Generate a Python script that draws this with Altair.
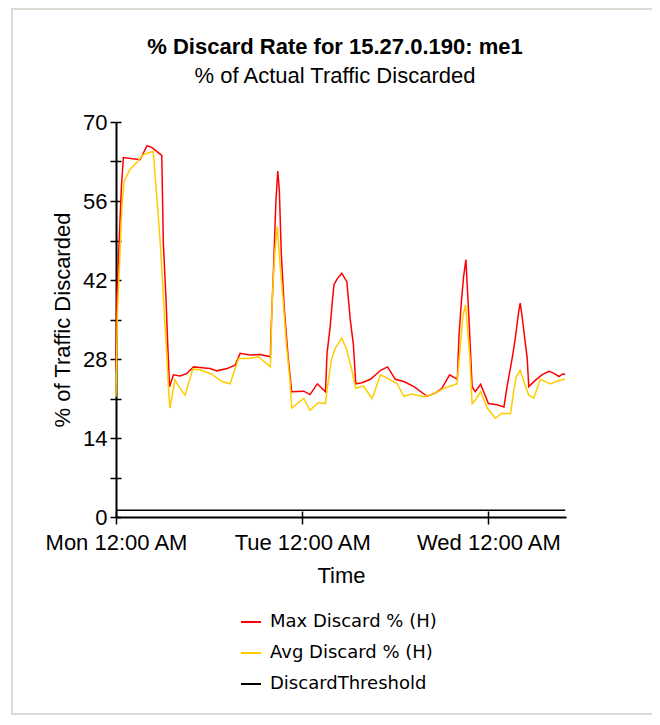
import altair as alt
import pandas as pd

# ---- data (hours after Mon 12:00 AM, % discarded) ----
max_hours = [0.0, 0.1, 0.4, 0.7, 0.95, 3.1, 4.0, 4.6, 5.25, 5.9, 6.1, 6.45, 6.67, 6.9,
             7.4, 8.25, 9.1, 10.0, 10.8, 12.1, 13.0, 14.3, 15.35, 16.0, 17.3, 18.6, 19.9,
             20.0, 20.3, 20.6, 20.85, 21.05, 21.3, 21.7, 22.2, 22.65, 24.2, 25.0, 25.95,
             27.0, 27.2, 27.6, 27.9, 28.1, 28.55, 29.1, 29.75, 30.2, 30.6, 30.9, 31.7,
             32.8, 34.1, 35.0, 36.0, 37.1, 38.4, 40.1, 41.2, 42.0, 43.0, 44.0, 44.2,
             44.5, 44.8, 45.1, 45.25, 45.55, 45.9, 46.3, 47.0, 48.0, 49.1, 50.0, 50.4,
             51.1, 51.5, 51.9, 52.1, 52.35, 52.65, 53.0, 53.2, 54.1, 54.9, 55.8, 56.4,
             57.1, 57.5, 57.9]
max_vals = [26.0, 38.5, 48.6, 58.6, 63.7, 63.3, 65.8, 65.5, 64.8, 64.1, 48.6, 38.5, 30.5, 23.1,
            25.2, 25.0, 25.4, 26.6, 26.5, 26.3, 25.9, 26.3, 26.9, 29.0, 28.7, 28.8, 28.4,
            33.5, 43.8, 55.7, 61.3, 58.0, 46.8, 36.7, 28.1, 22.2, 22.3, 21.7, 23.6,
            22.2, 29.0, 33.7, 38.5, 41.2, 42.3, 43.2, 41.7, 34.9, 30.5, 23.6, 23.8,
            24.4, 26.0, 26.6, 24.4, 24.0, 23.1, 21.4, 22.0, 22.8, 25.2, 24.4, 32.0,
            37.9, 42.6, 45.6, 41.5, 33.5, 23.1, 22.2, 23.5, 20.1, 19.9, 19.5, 23.1,
            28.4, 32.0, 36.4, 37.9, 35.5, 32.0, 28.1, 23.1, 24.3, 25.2, 25.8, 25.5,
            24.9, 25.3, 25.3]

avg_hours = [0.0, 0.17, 0.5, 0.75, 1.05, 1.8, 2.65, 3.5, 4.8, 5.05, 5.35, 5.7, 6.0, 6.45,
             6.75, 6.95, 7.6, 8.25, 8.9, 9.9, 10.8, 12.35, 13.65, 14.7, 15.8, 17.05, 18.35,
             19.9, 20.15, 20.5, 20.8, 21.05, 21.5, 21.95, 22.45, 22.65, 24.2, 25.0, 26.1,
             27.0, 27.2, 27.8, 28.25, 29.1, 29.75, 30.4, 30.9, 31.9, 33.0, 34.1, 35.35,
             36.2, 37.1, 38.15, 39.65, 40.95, 42.25, 43.95, 44.3, 44.7, 45.05, 45.25, 45.6,
             45.9, 46.3, 47.0, 47.85, 48.9, 49.75, 50.85, 51.25, 51.6, 52.1, 52.65, 53.2,
             53.85, 54.7, 55.35, 56.0, 56.65, 57.7, 57.9]
avg_vals = [21.3, 35.5, 46.2, 54.5, 59.5, 61.6, 62.8, 64.2, 64.8, 60.4, 55.1, 48.6, 41.5, 30.8,
            23.1, 19.3, 24.3, 22.8, 21.6, 26.2, 26.1, 25.3, 24.0, 23.6, 28.1, 28.1, 28.4,
            26.6, 39.1, 47.4, 51.5, 46.2, 39.1, 30.8, 23.7, 19.3, 21.0, 18.9, 20.3,
            20.1, 22.5, 28.1, 29.9, 31.7, 29.6, 26.0, 22.8, 23.2, 21.0, 25.2, 24.3,
            23.7, 21.4, 21.8, 21.3, 21.8, 22.8, 23.6, 29.0, 35.5, 37.6, 34.3, 28.4,
            20.1, 20.7, 22.2, 19.3, 17.5, 18.4, 18.3, 22.2, 24.9, 26.0, 23.7, 21.6,
            21.1, 24.4, 24.0, 23.6, 24.0, 24.4, 24.4]

thr_hours = [0.0, 57.9]
thr_vals = [1.2, 1.2]

series_names = ["Max Discard % (H)", "Avg Discard % (H)", "DiscardThreshold"]
series_colors = ["#ff0000", "#ffcc00", "#000000"]
y_ticks = [0, 7, 14, 21, 28, 35, 42, 49, 56, 63, 70]

start = pd.Timestamp("2024-01-01 00:00:00")  # a Monday


def frame(hours, vals, name):
    t = [(start + pd.Timedelta(hours=h)).strftime("%Y-%m-%dT%H:%M:%S") for h in hours]
    return pd.DataFrame({"time": t, "value": vals, "series": name, "order": range(len(vals))})


df = pd.concat([
    frame(thr_hours, thr_vals, series_names[2]),
    frame(max_hours, max_vals, series_names[0]),
    frame(avg_hours, avg_vals, series_names[1]),
])

FONT = "Liberation Sans"
x_domain = [alt.DateTime(year=2024, month=1, date=1, hours=0),
            alt.DateTime(year=2024, month=1, date=3, hours=10)]
x_ticks = [alt.DateTime(year=2024, month=1, date=d) for d in (1, 2, 3)]

x_enc = alt.X(
    "time:T",
    title="Time",
    scale=alt.Scale(domain=x_domain),
    axis=alt.Axis(
        values=x_ticks, orient="bottom",
        format="%a %I:%M %p", labelAngle=0, labelFlush=False, labelOverlap=False,
        tickSize=7, tickWidth=1.5, tickColor="black", domainColor="black", domainWidth=2,
        labelPadding=8, titlePadding=12, grid=False,
    ),
)
y_enc = alt.Y(
    "value:Q",
    title="% of Traffic Discarded",
    scale=alt.Scale(domain=[0, 70], nice=False, zero=True),
    axis=alt.Axis(
        values=y_ticks, orient="left", labelExpr="datum.value % 14 == 0 ? datum.label : ''",
        tickSize=6, tickWidth=1.5, tickColor="black", domainColor="black", domainWidth=2,
        labelPadding=3, titlePadding=8, grid=False,
    ),
)

lines = alt.Chart(df).mark_line(strokeWidth=1.5, interpolate="linear").encode(
    x=x_enc,
    y=y_enc,
    color=alt.Color(
        "series:N",
        scale=alt.Scale(domain=series_names, range=series_colors),
        sort=series_names,
        legend=alt.Legend(
            title=None, orient="none", legendX=124, legendY=489,
            symbolType="stroke", symbolSize=400, symbolStrokeWidth=2,
            labelFont="DejaVu Sans", labelFontSize=18, labelColor="black",
            labelOffset=8, rowPadding=11, padding=0, labelLimit=400,
        ),
    ),
    detail="series:N",
    order="order:Q",
)

# inner half of the tick marks (ticks in the reference cross the axis line)
inner = alt.Chart(df).mark_line(strokeOpacity=0).encode(
    x=alt.X("time:T", title=None, scale=alt.Scale(domain=x_domain),
            axis=alt.Axis(values=x_ticks, orient="bottom", offset=-6, labels=False,
                          domain=False, tickSize=6, tickWidth=1.5, tickColor="black",
                          grid=False, title=None)),
    y=alt.Y("value:Q", title=None, scale=alt.Scale(domain=[0, 70], nice=False),
            axis=alt.Axis(values=y_ticks, orient="left", offset=-5, labels=False,
                          domain=False, tickSize=5, tickWidth=1.5, tickColor="black",
                          grid=False, title=None)),
    detail="series:N",
)

border = alt.Chart(pd.DataFrame({"k": [0]})).mark_rect(
    fill=None, stroke="#d4d0c8", strokeWidth=1.5
).encode(
    x=alt.value(-104), x2=alt.value(640), y=alt.value(-113), y2=alt.value(592)
)

chart = alt.layer(border, lines, inner).resolve_axis(x="independent", y="independent").properties(
    width=450,
    height=395,
    autosize=alt.AutoSizeParams(type="none"),
    padding={"left": 108, "top": 114, "right": 86, "bottom": 199},
    title=alt.TitleParams(
        text="% Discard Rate for 15.27.0.190: me1",
        subtitle="% of Actual Traffic Discarded",
        font=FONT, fontSize=22, fontWeight="bold", color="black",
        subtitleFont=FONT, subtitleFontSize=22, subtitleColor="black",
        subtitlePadding=7, anchor="middle", frame="group", offset=30, dy=110, dx=-6,
    ),
).configure_view(strokeWidth=0).configure_axis(
    labelFont=FONT, labelFontSize=22, labelColor="black",
    titleFont=FONT, titleFontSize=22, titleFontWeight="normal", titleColor="black",
)

chart.save("out.html", embed_options={"renderer": "svg", "actions": False})
